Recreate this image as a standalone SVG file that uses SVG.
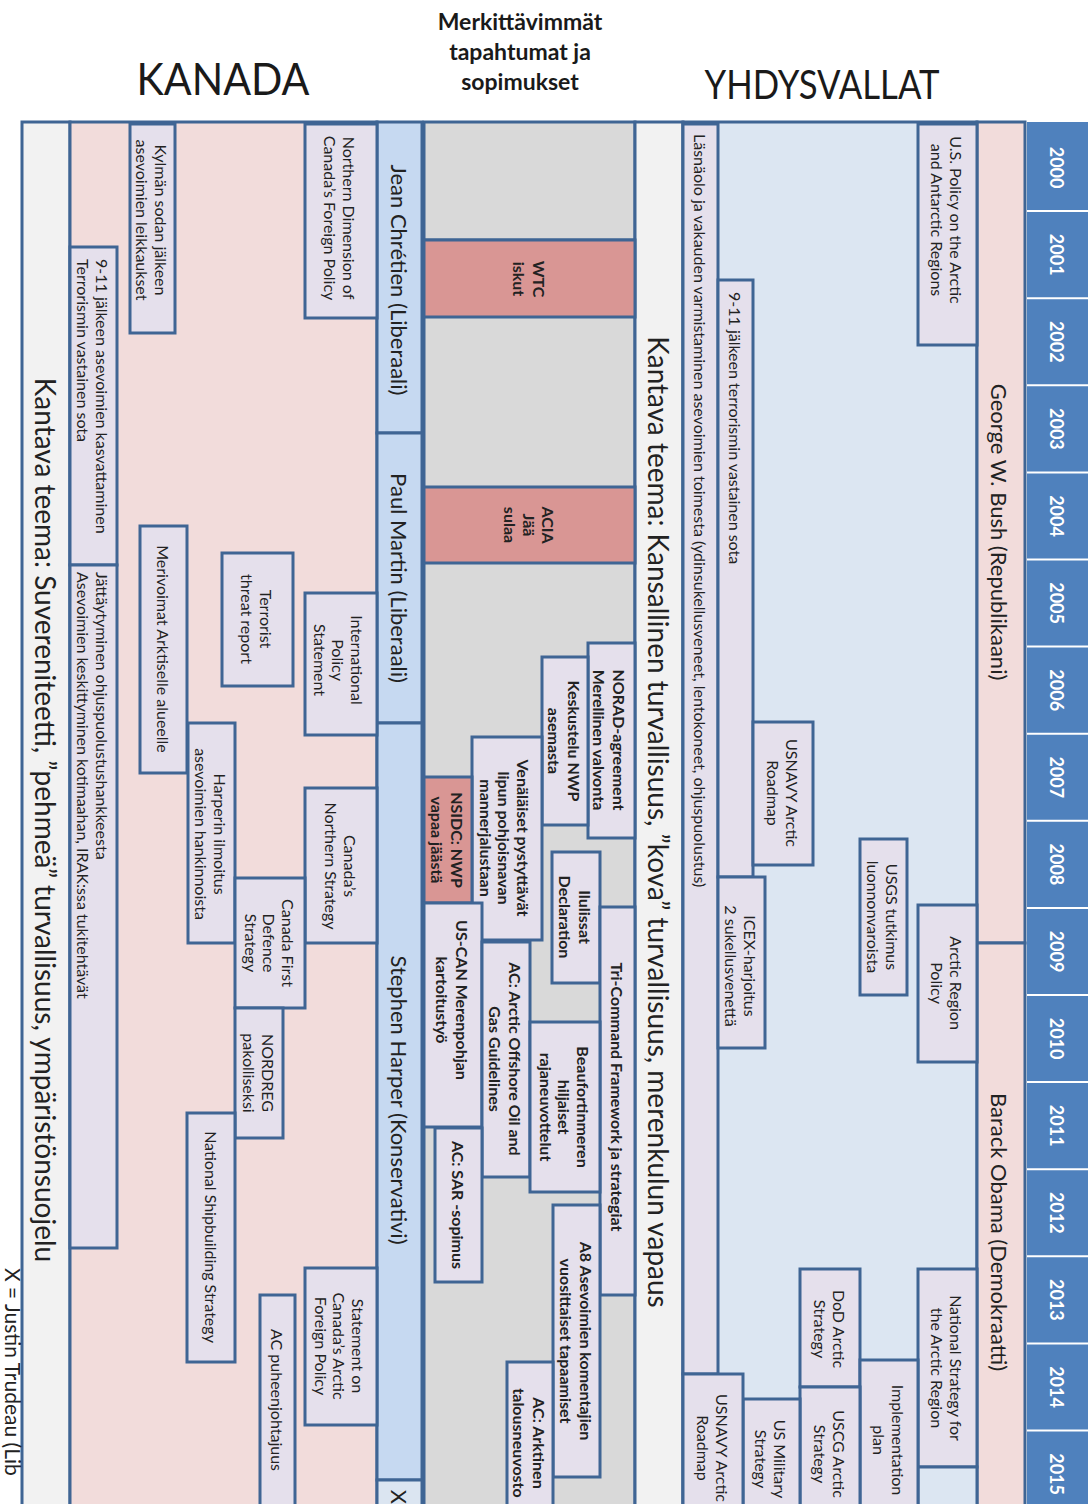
<svg xmlns="http://www.w3.org/2000/svg" width="1088" height="1504" viewBox="0 0 1088 1504">
<style>
.bg{stroke:#3f6594;stroke-width:3}
.box{fill:#e5e0ec;stroke:#3f6594;stroke-width:3}
.red{fill:#d99694;stroke:#3f6594;stroke-width:3}
.t{font-family:Lato,"Liberation Sans",sans-serif;font-size:16px;fill:#222;text-anchor:middle;dominant-baseline:central}
.s{text-anchor:start}
.b{font-weight:bold;font-size:16px}
.pm{font-size:22px}
.th{font-size:28px}
.note{font-size:21px}
.yr{fill:#fff;font-weight:bold;font-size:18px}
.ttl{font-family:Lato,"Liberation Sans",sans-serif;fill:#1a1a1a;text-anchor:middle}
.sep{stroke:#fff;stroke-width:2}
</style>
<rect width="1088" height="1504" fill="#fff"/>

<!-- titles -->
<g id="titles">
<text class="ttl" x="223" y="95" font-size="44" textLength="173" lengthAdjust="spacingAndGlyphs">KANADA</text>
<text class="ttl" x="520" y="30" font-size="23" font-weight="bold">Merkittävimmät</text>
<text class="ttl" x="520" y="60" font-size="23" font-weight="bold">tapahtumat ja</text>
<text class="ttl" x="520" y="90" font-size="23" font-weight="bold">sopimukset</text>
<text class="ttl" x="822" y="99" font-size="40" textLength="235" lengthAdjust="spacingAndGlyphs">YHDYSVALLAT</text>
</g>

<!-- background columns -->
<g id="columns">
<rect class="bg" x="22" y="122" width="48" height="1400" fill="#f2f2f2"/>
<rect class="bg" x="70" y="122" width="307" height="1400" fill="#f2dcdb"/>
<rect class="bg" x="424" y="122" width="211" height="1400" fill="#d9d9d9"/>
<rect class="bg" x="635" y="122" width="48" height="1400" fill="#f2f2f2"/>
<rect class="bg" x="683" y="122" width="294" height="1400" fill="#dce6f2"/>
<rect x="1027" y="122" width="61" height="1400" fill="#4f81bd"/>
<line class="bg" x1="424" y1="240" x2="635" y2="240"/>
</g>

<g id="years">
<line class="sep" x1="1027" y1="211.1" x2="1088" y2="211.1"/>
<line class="sep" x1="1027" y1="298.2" x2="1088" y2="298.2"/>
<line class="sep" x1="1027" y1="385.3" x2="1088" y2="385.3"/>
<line class="sep" x1="1027" y1="472.4" x2="1088" y2="472.4"/>
<line class="sep" x1="1027" y1="559.5" x2="1088" y2="559.5"/>
<line class="sep" x1="1027" y1="646.6" x2="1088" y2="646.6"/>
<line class="sep" x1="1027" y1="733.7" x2="1088" y2="733.7"/>
<line class="sep" x1="1027" y1="820.8" x2="1088" y2="820.8"/>
<line class="sep" x1="1027" y1="907.9" x2="1088" y2="907.9"/>
<line class="sep" x1="1027" y1="995" x2="1088" y2="995"/>
<line class="sep" x1="1027" y1="1082.1" x2="1088" y2="1082.1"/>
<line class="sep" x1="1027" y1="1169.2" x2="1088" y2="1169.2"/>
<line class="sep" x1="1027" y1="1256.3" x2="1088" y2="1256.3"/>
<line class="sep" x1="1027" y1="1343.4" x2="1088" y2="1343.4"/>
<line class="sep" x1="1027" y1="1430.5" x2="1088" y2="1430.5"/>
<text class="t yr" transform="translate(1057,167.6) rotate(90)">2000</text>
<text class="t yr" transform="translate(1057,254.7) rotate(90)">2001</text>
<text class="t yr" transform="translate(1057,341.8) rotate(90)">2002</text>
<text class="t yr" transform="translate(1057,428.9) rotate(90)">2003</text>
<text class="t yr" transform="translate(1057,516) rotate(90)">2004</text>
<text class="t yr" transform="translate(1057,603.1) rotate(90)">2005</text>
<text class="t yr" transform="translate(1057,690.2) rotate(90)">2006</text>
<text class="t yr" transform="translate(1057,777.3) rotate(90)">2007</text>
<text class="t yr" transform="translate(1057,864.4) rotate(90)">2008</text>
<text class="t yr" transform="translate(1057,951.5) rotate(90)">2009</text>
<text class="t yr" transform="translate(1057,1038.6) rotate(90)">2010</text>
<text class="t yr" transform="translate(1057,1125.7) rotate(90)">2011</text>
<text class="t yr" transform="translate(1057,1212.8) rotate(90)">2012</text>
<text class="t yr" transform="translate(1057,1299.9) rotate(90)">2013</text>
<text class="t yr" transform="translate(1057,1387) rotate(90)">2014</text>
<text class="t yr" transform="translate(1057,1474.1) rotate(90)">2015</text>
</g>

<!-- themes -->
<g id="theme-canada"><text class="t th" transform="translate(46,820) rotate(90)">Kantava teema: Suvereniteetti, ”pehmeä” turvallisuus, ympäristönsuojelu</text></g>
<g id="theme-us"><text class="t th" transform="translate(659,822) rotate(90)">Kantava teema: Kansallinen turvallisuus, ”kova” turvallisuus, merenkulun vapaus</text></g>
<g id="trudeau-note"><text class="t s note" transform="translate(13,1268) rotate(90)">X = Justin Trudeau (Lib</text></g>

<!-- Canadian prime ministers -->
<g id="pm-chretien"><rect class="bg" x="377" y="122" width="45" height="311" fill="#c6d9f1"/><text class="t pm" transform="translate(399,280) rotate(90)">Jean Chrétien (Liberaali)</text></g>
<g id="pm-martin"><rect class="bg" x="377" y="433" width="45" height="290" fill="#c6d9f1"/><text class="t pm" transform="translate(399,578) rotate(90)">Paul Martin (Liberaali)</text></g>
<g id="pm-harper"><rect class="bg" x="377" y="723" width="45" height="757" fill="#c6d9f1"/><text class="t pm" transform="translate(399,1100) rotate(90)">Stephen Harper (Konservativi)</text></g>
<g id="pm-x"><rect class="bg" x="377" y="1480" width="45" height="40" fill="#dbe5f1"/><text class="t pm" transform="translate(399,1497) rotate(90)">X</text></g>

<!-- US presidents -->
<g id="pres-bush"><rect class="bg" x="977" y="122" width="48" height="821" fill="#f2dcdb"/><text class="t pm" transform="translate(999,532) rotate(90)">George W. Bush (Republikaani)</text></g>
<g id="pres-obama"><rect class="bg" x="977" y="943" width="48" height="580" fill="#f2dcdb"/><text class="t pm" transform="translate(999,1232) rotate(90)">Barack Obama (Demokraatti)</text></g>

<!-- Canada nodes -->
<g id="ca-kylman"><rect class="box" x="130" y="124" width="45" height="209"/><text class="t" transform="translate(152.5,220) rotate(90)"><tspan x="0" y="-9.5">Kylmän sodan jälkeen</tspan><tspan x="0" y="9.5">asevoimien leikkaukset</tspan></text></g>
<g id="ca-northdim"><rect class="box" x="305" y="124" width="72" height="194"/><text class="t" transform="translate(340,218) rotate(90)"><tspan x="0" y="-9.5">Northern Dimension of</tspan><tspan x="0" y="9.5">Canada’s Foreign Policy</tspan></text></g>
<g id="ca-911"><rect class="box" x="70" y="247" width="47" height="318"/><text class="t s" transform="translate(93.5,259) rotate(90)"><tspan x="0" y="-9.5">9-11 jälkeen asevoimien kasvattaminen</tspan><tspan x="0" y="9.5">Terrorismin vastainen sota</tspan></text></g>
<g id="ca-jattaytyminen"><rect class="box" x="70" y="565" width="47" height="683"/><text class="t s" transform="translate(93.5,572) rotate(90)"><tspan x="0" y="-9.5">Jättäytyminen ohjuspuolustushankkeesta</tspan><tspan x="0" y="9.5">Asevoimien keskittyminen kotimaahan, IRAK:ssa tukitehtävät</tspan></text></g>
<g id="ca-merivoimat"><rect class="box" x="140" y="526" width="47" height="247"/><text class="t" transform="translate(163.5,649) rotate(90)">Merivoimat Arktiselle alueelle</text></g>
<g id="ca-terrorist"><rect class="box" x="222" y="553" width="71" height="133"/><text class="t" transform="translate(257.5,619) rotate(90)"><tspan x="0" y="-9.5">Terrorist</tspan><tspan x="0" y="9.5">threat report</tspan></text></g>
<g id="ca-intlpolicy"><rect class="box" x="305" y="593" width="72" height="142"/><text class="t" transform="translate(339,660) rotate(90)"><tspan x="0" y="-18.5">International</tspan><tspan x="0" y="0">Policy</tspan><tspan x="0" y="18.5">Statement</tspan></text></g>
<g id="ca-harperin"><rect class="box" x="188" y="723" width="47" height="220"/><text class="t" transform="translate(211.5,834) rotate(90)"><tspan x="0" y="-9.5">Harperin ilmoitus</tspan><tspan x="0" y="9.5">asevoimien hankinnoista</tspan></text></g>
<g id="ca-northstrat"><rect class="box" x="305" y="788" width="72" height="155"/><text class="t" transform="translate(341,866) rotate(90)"><tspan x="0" y="-9.5">Canada’s</tspan><tspan x="0" y="9.5">Northern Strategy</tspan></text></g>
<g id="ca-cfds"><rect class="box" x="235" y="878" width="70" height="130"/><text class="t" transform="translate(270,943) rotate(90)"><tspan x="0" y="-18.5">Canada First</tspan><tspan x="0" y="0">Defence</tspan><tspan x="0" y="18.5">Strategy</tspan></text></g>
<g id="ca-nordreg"><rect class="box" x="235" y="1008" width="48" height="130"/><text class="t" transform="translate(259,1073) rotate(90)"><tspan x="0" y="-9.5">NORDREG</tspan><tspan x="0" y="9.5">pakolliseksi</tspan></text></g>
<g id="ca-shipbuilding"><rect class="box" x="187" y="1113" width="48" height="249"/><text class="t" transform="translate(211,1237) rotate(90)">National Shipbuilding Strategy</text></g>
<g id="ca-statement"><rect class="box" x="305" y="1268" width="72" height="157"/><text class="t" transform="translate(340,1346) rotate(90)"><tspan x="0" y="-18.5">Statement on</tspan><tspan x="0" y="0">Canada’s Arctic</tspan><tspan x="0" y="18.5">Foreign Policy</tspan></text></g>
<g id="ca-acchair"><rect class="box" x="260" y="1295" width="35" height="227"/><text class="t" transform="translate(277.5,1400) rotate(90)">AC puheenjohtajuus</text></g>

<!-- Events nodes -->
<g id="ev-wtc"><rect class="red" x="424" y="240" width="211" height="77"/><text class="t b" transform="translate(530,279) rotate(90)"><tspan x="0" y="-10">WTC</tspan><tspan x="0" y="10">iskut</tspan></text></g>
<g id="ev-acia"><rect class="red" x="424" y="487" width="211" height="76"/><text class="t b" transform="translate(530,525) rotate(90)"><tspan x="0" y="-19">ACIA</tspan><tspan x="0" y="0">Jää</tspan><tspan x="0" y="19">sulaa</tspan></text></g>
<g id="ev-norad"><rect class="box" x="588" y="643" width="47" height="195"/><text class="t b" transform="translate(610,740) rotate(90)"><tspan x="0" y="-10">NORAD-agreement</tspan><tspan x="0" y="10">Merellinen valvonta</tspan></text></g>
<g id="ev-keskustelu"><rect class="box" x="542" y="657" width="46" height="168"/><text class="t b" transform="translate(565,741) rotate(90)"><tspan x="0" y="-10">Keskustelu NWP</tspan><tspan x="0" y="10">asemasta</tspan></text></g>
<g id="ev-venalaiset"><rect class="box" x="472" y="737" width="70" height="203"/><text class="t b" transform="translate(505,838) rotate(90)"><tspan x="0" y="-18.5">Venäläiset pystyttävät</tspan><tspan x="0" y="0">lipun pohjoisnavan</tspan><tspan x="0" y="18.5">mannerjalustaan</tspan></text></g>
<g id="ev-nsidc"><rect class="red" x="424" y="777" width="48" height="126"/><text class="t b" transform="translate(448,840) rotate(90)"><tspan x="0" y="-10">NSIDC: NWP</tspan><tspan x="0" y="10">vapaa jäästä</tspan></text></g>
<g id="ev-ilulissat"><rect class="box" x="552" y="852" width="48" height="131"/><text class="t b" transform="translate(576,917) rotate(90)"><tspan x="0" y="-10">Ilulissat</tspan><tspan x="0" y="10">Declaration</tspan></text></g>
<g id="ev-tricommand"><rect class="box" x="600" y="907" width="35" height="388"/><text class="t b" transform="translate(617.5,1097) rotate(90)">Tri-Command Framework ja strategiat</text></g>
<g id="ev-uscan"><rect class="box" x="424" y="903" width="58" height="224"/><text class="t b" transform="translate(453,1000) rotate(90)"><tspan x="0" y="-10">US-CAN Merenpohjan</tspan><tspan x="0" y="10">kartoitustyö</tspan></text></g>
<g id="ev-offshore"><rect class="box" x="482" y="942" width="48" height="235"/><text class="t b" transform="translate(506,1059) rotate(90)"><tspan x="0" y="-10">AC: Arctic Offshore Oil and</tspan><tspan x="0" y="10">Gas Guidelines</tspan></text></g>
<g id="ev-beaufort"><rect class="box" x="530" y="1022" width="70" height="170"/><text class="t b" transform="translate(565,1107) rotate(90)"><tspan x="0" y="-18.5">Beaufortinmeren</tspan><tspan x="0" y="0">hiljaiset</tspan><tspan x="0" y="18.5">rajaneuvottelut</tspan></text></g>
<g id="ev-sar"><rect class="box" x="435" y="1128" width="47" height="154"/><text class="t b" transform="translate(458.5,1205) rotate(90)">AC: SAR -sopimus</text></g>
<g id="ev-a8"><rect class="box" x="553" y="1205" width="47" height="272"/><text class="t b" transform="translate(576.5,1341) rotate(90)"><tspan x="0" y="-10">A8 Asevoimien komentajien</tspan><tspan x="0" y="10">vuosittaiset tapaamiset</tspan></text></g>
<g id="ev-talousneuvosto"><rect class="box" x="507" y="1362" width="46" height="160"/><text class="t b" transform="translate(530,1443) rotate(90)"><tspan x="0" y="-10">AC: Arktinen</tspan><tspan x="0" y="10">talousneuvosto</tspan></text></g>

<!-- US nodes -->
<g id="us-policy"><rect class="box" x="918" y="124" width="59" height="221"/><text class="t" transform="translate(947.5,220) rotate(90)"><tspan x="0" y="-9.5">U.S. Policy on the Arctic</tspan><tspan x="0" y="9.5">and Antarctic Regions</tspan></text></g>
<g id="us-lasnaolo"><rect class="box" x="683" y="124" width="35" height="1250"/><text class="t s" transform="translate(700.5,134) rotate(90)">Läsnäolo ja vakauden varmistaminen asevoimien toimesta (ydinsukellusveneet, lentokoneet, ohjuspuolustus)</text></g>
<g id="us-911"><rect class="box" x="718" y="280" width="35" height="597"/><text class="t s" transform="translate(735.5,292) rotate(90)">9-11 jälkeen terrorismin vastainen sota</text></g>
<g id="us-navy2007"><rect class="box" x="753" y="722" width="60" height="143"/><text class="t" transform="translate(783,793) rotate(90)"><tspan x="0" y="-9.5">USNAVY Arctic</tspan><tspan x="0" y="9.5">Roadmap</tspan></text></g>
<g id="us-usgs"><rect class="box" x="860" y="839" width="47" height="156"/><text class="t" transform="translate(883.5,917) rotate(90)"><tspan x="0" y="-9.5">USGS tutkimus</tspan><tspan x="0" y="9.5">luonnonvaroista</tspan></text></g>
<g id="us-icex"><rect class="box" x="718" y="877" width="47" height="171"/><text class="t" transform="translate(741.5,966) rotate(90)"><tspan x="0" y="-9.5">ICEX-harjoitus</tspan><tspan x="0" y="9.5">2 sukellusvenettä</tspan></text></g>
<g id="us-arcticregion"><rect class="box" x="918" y="905" width="59" height="157"/><text class="t" transform="translate(947.5,983) rotate(90)"><tspan x="0" y="-9.5">Arctic Region</tspan><tspan x="0" y="9.5">Policy</tspan></text></g>
<g id="us-natstrat"><rect class="box" x="918" y="1269" width="59" height="198"/><text class="t" transform="translate(947.5,1368) rotate(90)"><tspan x="0" y="-9.5">National Strategy for</tspan><tspan x="0" y="9.5">the Arctic Region</tspan></text></g>
<g id="us-natstrat-next"><rect class="bg" x="918" y="1467" width="59" height="55" fill="#dce6f2"/></g>
<g id="us-dod"><rect class="box" x="800" y="1269" width="60" height="118"/><text class="t" transform="translate(830,1329) rotate(90)"><tspan x="0" y="-9.5">DoD Arctic</tspan><tspan x="0" y="9.5">Strategy</tspan></text></g>
<g id="us-impl"><rect class="box" x="860" y="1360" width="58" height="162"/><text class="t" transform="translate(889,1440) rotate(90)"><tspan x="0" y="-9.5">Implementation</tspan><tspan x="0" y="9.5">plan</tspan></text></g>
<g id="us-uscg"><rect class="box" x="800" y="1387" width="60" height="135"/><text class="t" transform="translate(830,1454) rotate(90)"><tspan x="0" y="-9.5">USCG Arctic</tspan><tspan x="0" y="9.5">Strategy</tspan></text></g>
<g id="us-military"><rect class="box" x="743" y="1399" width="57" height="123"/><text class="t" transform="translate(771.5,1459) rotate(90)"><tspan x="0" y="-9.5">US Military</tspan><tspan x="0" y="9.5">Strategy</tspan></text></g>
<g id="us-navy2014"><rect class="box" x="683" y="1374" width="60" height="148"/><text class="t" transform="translate(713,1448) rotate(90)"><tspan x="0" y="-9.5">USNAVY Arctic</tspan><tspan x="0" y="9.5">Roadmap</tspan></text></g>

<g id="connectors"></g>
</svg>
